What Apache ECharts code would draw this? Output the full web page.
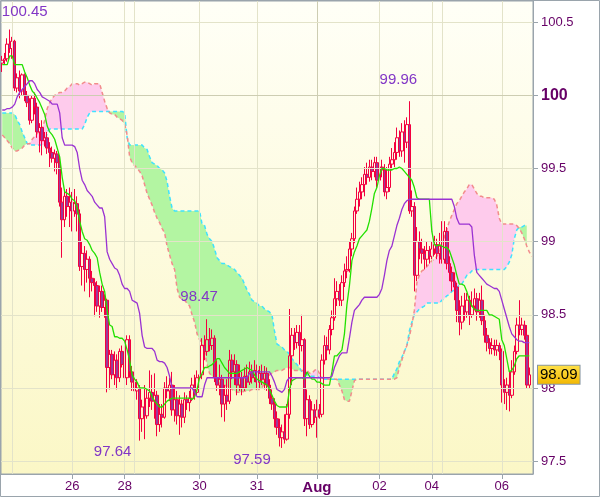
<!DOCTYPE html>
<html>
<head>
<meta charset="utf-8">
<script src="https://cdn.jsdelivr.net/npm/echarts@6/dist/echarts.min.js"></script>
<style>
html,body{margin:0;padding:0;background:#fff;}
#chart{width:600px;height:497px;}
</style>
</head>
<body>
<div id="chart"></div>
<script>
// ---------------- DATA ----------------
const N = 213; // hourly slots incl. one slot of forward cloud
const opens = [100.22,100.24,100.25,100.35,100.32,100.37,100.05,100.12,100.03,100.14,100.00,99.95,99.83,99.98,99.92,99.75,99.78,99.69,99.71,99.64,99.61,99.57,99.60,99.54,99.27,99.15,99.31,99.24,99.27,99.21,99.26,99.19,98.83,98.92,98.81,98.88,98.75,98.72,98.70,98.56,98.66,98.55,98.60,98.14,98.23,98.09,98.19,98.07,98.25,98.16,98.07,98.33,98.11,98.04,97.98,98.00,97.79,97.87,97.81,97.93,97.97,97.91,97.95,97.75,97.82,97.80,98.00,97.98,98.02,97.85,97.92,97.81,97.89,97.80,97.92,97.90,97.93,98.02,97.97,98.07,98.09,98.29,98.25,98.33,98.29,98.34,98.07,98.02,98.06,97.89,97.95,97.91,98.19,98.11,98.16,98.02,98.07,98.00,98.08,98.04,98.11,98.07,98.12,98.04,98.10,98.06,98.10,98.02,97.93,97.89,97.79,97.73,97.66,97.70,97.65,97.82,98.22,98.36,98.31,98.38,98.29,98.33,97.79,97.92,97.75,97.85,97.80,97.85,97.82,98.19,98.29,98.26,98.40,98.48,98.61,98.66,98.60,98.72,98.80,98.81,98.95,99.02,99.21,99.29,99.34,99.39,99.46,99.44,99.51,99.48,99.54,99.42,99.51,99.49,99.34,99.37,99.53,99.56,99.61,99.71,99.62,99.75,99.68,99.80,99.21,99.24,98.77,99.00,98.95,98.92,98.88,98.94,98.90,98.95,98.98,98.92,98.97,98.88,99.07,98.85,98.79,98.73,98.69,98.53,98.45,98.56,98.52,98.60,98.50,98.56,98.61,98.52,98.60,98.46,98.36,98.31,98.27,98.29,98.26,98.29,98.25,98.02,97.97,98.02,97.95,98.11,98.25,98.43,98.40,98.43,98.36,98.02];
const closes = [100.24,100.25,100.35,100.32,100.37,100.05,100.12,100.03,100.14,100.00,99.95,99.83,99.98,99.92,99.75,99.78,99.69,99.71,99.64,99.61,99.57,99.60,99.54,99.27,99.15,99.31,99.24,99.27,99.21,99.26,99.19,98.83,98.92,98.81,98.88,98.75,98.72,98.70,98.56,98.66,98.55,98.60,98.14,98.23,98.09,98.19,98.07,98.25,98.16,98.07,98.33,98.11,98.04,97.98,98.00,97.79,97.87,97.81,97.93,97.97,97.91,97.95,97.75,97.82,97.80,98.00,97.98,98.02,97.85,97.92,97.81,97.89,97.80,97.92,97.90,97.93,98.02,97.97,98.07,98.09,98.29,98.25,98.33,98.29,98.34,98.07,98.02,98.06,97.89,97.95,97.91,98.19,98.11,98.16,98.02,98.07,98.00,98.08,98.04,98.11,98.07,98.12,98.04,98.10,98.06,98.10,98.02,97.93,97.89,97.79,97.73,97.66,97.70,97.65,97.82,98.22,98.36,98.31,98.38,98.29,98.33,97.79,97.92,97.75,97.85,97.80,97.85,97.82,98.19,98.29,98.26,98.40,98.48,98.61,98.66,98.60,98.72,98.80,98.81,98.95,99.02,99.21,99.29,99.34,99.39,99.46,99.44,99.51,99.48,99.54,99.42,99.51,99.49,99.34,99.37,99.53,99.56,99.61,99.71,99.62,99.75,99.68,99.80,99.21,99.24,98.77,99.00,98.95,98.92,98.88,98.94,98.90,98.95,98.98,98.92,98.97,98.88,99.07,98.85,98.79,98.73,98.69,98.53,98.45,98.56,98.52,98.60,98.50,98.56,98.61,98.52,98.60,98.46,98.36,98.31,98.27,98.29,98.26,98.29,98.25,98.02,97.97,98.02,97.95,98.11,98.25,98.43,98.40,98.43,98.36,98.02,98.09];
const lows = [100.16,100.21,100.23,100.29,100.25,100.03,100.02,99.98,100.00,99.96,99.92,99.80,99.81,99.87,99.71,99.61,99.59,99.65,99.60,99.51,99.54,99.48,99.46,99.24,98.89,99.10,99.17,99.10,99.07,99.17,99.07,98.80,98.70,98.66,98.72,98.62,98.66,98.49,98.52,98.48,98.52,98.48,97.97,97.99,98.06,98.02,97.99,98.04,98.14,97.99,98.02,98.07,97.98,97.93,97.92,97.64,97.70,97.65,97.79,97.87,97.85,97.79,97.67,97.70,97.73,97.79,97.93,97.91,97.81,97.77,97.75,97.68,97.73,97.76,97.85,97.84,97.91,97.92,97.95,98.02,98.06,98.19,98.22,98.25,98.26,98.04,97.98,97.95,97.80,97.77,97.85,97.89,98.06,98.02,97.95,97.98,97.95,97.98,98.00,98.02,98.03,98.04,97.99,98.00,98.02,97.99,97.98,97.89,97.85,97.73,97.68,97.60,97.59,97.62,97.64,97.79,98.02,98.26,98.27,98.16,98.25,97.74,97.67,97.72,97.73,97.76,97.66,97.79,97.80,98.16,98.19,98.23,98.36,98.46,98.56,98.56,98.56,98.69,98.75,98.79,98.90,98.99,99.19,99.24,99.29,99.31,99.39,99.41,99.42,99.44,99.37,99.39,99.44,99.31,99.29,99.34,99.49,99.51,99.56,99.58,99.58,99.54,99.64,99.19,99.17,98.66,98.73,98.88,98.85,98.81,98.83,98.85,98.88,98.91,98.88,98.85,98.85,98.85,98.81,98.73,98.66,98.60,98.45,98.36,98.40,98.46,98.48,98.43,98.48,98.53,98.46,98.48,98.43,98.31,98.25,98.23,98.23,98.22,98.22,98.19,97.90,97.89,97.85,97.84,97.93,98.09,98.23,98.36,98.36,98.33,98.00,98.00];
const highs = [100.27,100.29,100.39,100.45,100.40,100.38,100.15,100.17,100.15,100.15,100.03,99.98,100.00,100.02,99.95,99.81,99.83,99.75,99.75,99.68,99.65,99.63,99.62,99.58,99.37,99.34,99.36,99.37,99.34,99.36,99.31,99.22,99.00,98.97,98.94,98.90,98.80,98.75,98.73,98.70,98.70,98.64,98.61,98.26,98.26,98.25,98.23,98.27,98.29,98.19,98.36,98.36,98.15,98.07,98.06,98.02,97.92,98.02,97.99,98.12,98.09,98.10,97.98,97.89,97.89,98.04,98.08,98.07,98.11,98.02,97.98,97.95,97.92,97.97,97.95,97.98,98.07,98.09,98.12,98.19,98.34,98.36,98.47,98.41,98.40,98.36,98.19,98.16,98.09,98.02,98.06,98.26,98.23,98.23,98.19,98.16,98.11,98.14,98.16,98.18,98.16,98.19,98.16,98.15,98.16,98.15,98.14,98.06,97.99,97.93,97.84,97.79,97.75,97.82,97.89,98.54,98.41,98.41,98.43,98.43,98.50,98.34,97.99,97.95,97.91,97.89,97.92,97.89,98.23,98.36,98.35,98.43,98.53,98.75,98.73,98.71,98.77,98.85,98.90,99.00,99.06,99.24,99.37,99.41,99.44,99.51,99.54,99.56,99.56,99.58,99.58,99.54,99.56,99.53,99.51,99.58,99.64,99.68,99.78,99.76,99.81,99.83,99.85,99.96,99.35,99.27,99.10,99.07,99.02,98.97,99.00,98.97,99.00,99.04,99.02,99.06,99.14,99.14,99.10,98.90,98.83,98.79,98.72,98.60,98.63,98.65,98.65,98.63,98.66,98.68,98.65,98.65,98.70,98.50,98.41,98.34,98.34,98.33,98.33,98.31,98.27,98.06,98.07,98.11,98.19,98.29,98.48,98.60,98.48,98.46,98.43,98.14];

// Tenkan-sen (green) and Kijun-sen (purple), one value per candle
const tenkan = [100.21,100.21,100.21,100.27,100.27,100.21,100.21,100.21,100.21,100.16,100.12,100.07,100.03,100.01,99.98,99.95,99.91,99.87,99.79,99.75,99.73,99.70,99.64,99.58,99.44,99.34,99.33,99.32,99.29,99.28,99.23,99.14,99.07,99.02,99.01,98.98,98.94,98.92,98.89,98.79,98.71,98.66,98.53,98.43,98.42,98.35,98.35,98.34,98.34,98.32,98.26,98.19,98.09,98.06,98.04,98.00,98.00,98.00,97.99,97.98,97.94,97.91,97.89,97.87,97.87,97.89,97.91,97.92,97.93,97.93,97.93,97.93,97.93,97.93,97.93,97.93,97.92,97.94,97.99,98.07,98.10,98.14,98.14,98.15,98.16,98.18,98.20,98.20,98.17,98.14,98.12,98.10,98.10,98.10,98.10,98.11,98.12,98.13,98.14,98.13,98.12,98.09,98.06,98.05,98.04,98.03,98.02,97.99,97.95,97.91,97.88,97.87,97.87,97.87,97.87,97.99,98.05,98.06,98.07,98.07,98.07,98.06,98.11,98.08,98.06,98.06,98.04,98.04,98.03,98.02,98.02,98.02,98.11,98.22,98.22,98.24,98.26,98.37,98.57,98.70,98.87,98.93,98.97,99.02,99.04,99.06,99.08,99.14,99.23,99.33,99.37,99.45,99.50,99.50,99.49,99.49,99.49,99.50,99.50,99.51,99.50,99.48,99.46,99.44,99.42,99.37,99.30,99.29,99.29,99.29,99.29,99.29,99.07,98.98,98.97,98.98,98.97,98.96,98.96,98.94,98.89,98.84,98.77,98.71,98.71,98.70,98.66,98.60,98.56,98.54,98.53,98.53,98.53,98.53,98.53,98.50,98.50,98.49,98.48,98.47,98.33,98.29,98.20,98.11,98.12,98.15,98.20,98.22,98.22,98.22,98.22,98.22];
const kijun = [99.90,99.90,99.91,99.91,99.92,99.94,99.99,100.02,100.04,100.06,100.08,100.10,100.10,100.08,100.04,100.02,99.99,99.98,99.97,99.96,99.94,99.94,99.94,99.88,99.71,99.66,99.66,99.66,99.66,99.65,99.61,99.50,99.42,99.39,99.35,99.33,99.31,99.27,99.25,99.23,99.23,99.17,98.93,98.88,98.85,98.82,98.81,98.77,98.71,98.68,98.68,98.66,98.60,98.59,98.58,98.51,98.36,98.28,98.27,98.27,98.27,98.25,98.19,98.18,98.18,98.17,98.14,98.08,98.00,98.00,98.00,98.00,98.00,98.00,98.00,98.00,98.00,97.97,97.94,97.94,97.94,98.02,98.07,98.07,98.07,98.07,98.07,98.07,98.07,98.07,98.07,98.07,98.07,98.07,98.07,98.07,98.07,98.07,98.07,98.10,98.11,98.11,98.11,98.11,98.11,98.11,98.11,98.11,98.08,98.04,97.99,97.98,97.97,97.99,98.05,98.07,98.07,98.07,98.07,98.07,98.07,98.07,98.07,98.07,98.07,98.07,98.07,98.07,98.07,98.07,98.07,98.07,98.08,98.14,98.18,98.22,98.24,98.24,98.24,98.34,98.45,98.53,98.55,98.57,98.60,98.62,98.62,98.62,98.62,98.62,98.62,98.64,98.68,98.77,98.87,98.94,98.97,99.04,99.11,99.16,99.22,99.26,99.28,99.29,99.29,99.29,99.29,99.29,99.29,99.29,99.29,99.29,99.29,99.29,99.29,99.29,99.29,99.29,99.29,99.29,99.29,99.24,99.16,99.12,99.12,99.12,99.12,99.12,99.10,98.91,98.79,98.77,98.75,98.73,98.71,98.70,98.69,98.68,98.68,98.66,98.60,98.54,98.48,98.42,98.37,98.35,98.33,98.32,98.32,98.31,98.31,98.31];

// Senkou span A (cyan dashed) and B (pink dashed), shifted cloud, one value per slot
const senkouA = [99.88,99.88,99.88,99.88,99.88,99.87,99.83,99.80,99.75,99.71,99.67,99.66,99.66,99.66,99.66,99.66,99.66,99.66,99.75,99.77,99.77,99.77,99.77,99.77,99.77,99.77,99.77,99.77,99.77,99.77,99.77,99.77,99.77,99.80,99.85,99.88,99.89,99.89,99.89,99.89,99.89,99.89,99.89,99.89,99.89,99.89,99.89,99.89,99.89,99.88,99.71,99.66,99.66,99.66,99.66,99.66,99.66,99.64,99.63,99.58,99.54,99.53,99.52,99.50,99.49,99.47,99.41,99.31,99.23,99.21,99.21,99.21,99.21,99.21,99.21,99.21,99.21,99.21,99.21,99.21,99.12,99.11,99.05,99.02,99.00,98.95,98.89,98.87,98.85,98.85,98.84,98.83,98.82,98.81,98.79,98.77,98.75,98.71,98.67,98.64,98.60,98.59,98.58,98.56,98.56,98.54,98.53,98.52,98.50,98.39,98.30,98.29,98.28,98.26,98.25,98.23,98.20,98.18,98.16,98.14,98.11,98.10,98.09,98.08,98.08,98.08,98.08,98.07,98.07,98.06,98.06,98.06,98.06,98.06,98.06,98.06,98.06,98.06,98.06,98.06,98.06,98.06,98.06,98.06,98.06,98.06,98.06,98.06,98.06,98.06,98.06,98.06,98.06,98.06,98.06,98.06,98.06,98.10,98.13,98.18,98.21,98.25,98.29,98.39,98.45,98.50,98.52,98.54,98.55,98.56,98.58,98.58,98.58,98.58,98.58,98.58,98.60,98.61,98.63,98.64,98.66,98.67,98.69,98.70,98.71,98.74,98.77,98.78,98.80,98.81,98.81,98.81,98.81,98.81,98.81,98.81,98.81,98.81,98.81,98.81,98.81,98.81,98.83,98.86,98.91,99.02,99.08,99.10,99.10,99.11,99.11];
const senkouB = [99.73,99.71,99.69,99.67,99.64,99.62,99.62,99.63,99.64,99.66,99.67,99.67,99.70,99.72,99.74,99.76,99.77,99.83,99.91,99.95,99.98,100.00,100.01,100.02,100.02,100.03,100.05,100.06,100.08,100.08,100.08,100.07,100.08,100.09,100.09,100.08,100.07,100.08,100.08,100.08,100.02,99.96,99.91,99.88,99.87,99.87,99.85,99.84,99.83,99.80,99.73,99.58,99.54,99.52,99.50,99.48,99.45,99.39,99.33,99.29,99.25,99.20,99.16,99.13,99.09,99.06,98.97,98.91,98.85,98.81,98.68,98.62,98.61,98.60,98.58,98.56,98.50,98.45,98.37,98.33,98.31,98.25,98.16,98.10,98.08,98.07,98.05,98.03,98.03,98.02,98.01,98.00,97.99,97.98,97.97,97.97,97.97,97.98,97.98,97.98,97.99,97.99,97.99,97.99,98.00,98.04,98.06,98.09,98.10,98.11,98.12,98.12,98.12,98.13,98.14,98.14,98.13,98.12,98.12,98.12,98.12,98.12,98.12,98.10,98.10,98.12,98.13,98.10,98.07,98.06,98.06,98.06,98.06,98.06,98.06,98.02,97.98,97.92,97.91,97.91,97.98,98.05,98.06,98.06,98.06,98.06,98.06,98.06,98.06,98.06,98.06,98.06,98.06,98.06,98.06,98.06,98.06,98.06,98.07,98.14,98.19,98.25,98.29,98.35,98.43,98.53,98.72,98.77,98.80,98.81,98.83,98.85,98.87,98.88,98.90,98.93,98.98,99.03,99.08,99.14,99.18,99.22,99.26,99.28,99.31,99.34,99.36,99.39,99.39,99.36,99.33,99.31,99.31,99.30,99.30,99.30,99.30,99.29,99.25,99.16,99.12,99.12,99.12,99.12,99.12,99.12,99.11,99.09,99.06,99.02,98.97,98.93,98.90];

// Axis ticks / day labels
const yTickValues = [97.5, 98, 98.5, 99, 99.5, 100, 100.5];
const dayTickIndex = [4, 28, 49, 53, 79, 102, 126, 151, 172, 176, 200];
const dayTickLabel = ['25', '26', '28', '29', '30', '31', 'Aug', '02', '04', '05', '06'];
const dayLabelShown = [false, true, true, false, true, true, true, true, true, false, true];

// High / low annotations: [candle index, price, label offset x, label offset y]
const annotIndex = [3, 163, 82, 55, 112];
const annotValue = [100.45, 99.96, 98.47, 97.64, 97.59];
const annotDx = [15, -11, -8, -27, -30];
const annotDy = [-18, -21, -22, 11, 12];

// ---------------- BUILD ----------------
const categories = Array.from({length: N}, (_, i) => 'h' + i);
const candleData = categories.map((c, i) => i < opens.length ? [opens[i], closes[i], lows[i], highs[i]] : '-');
const pad = arr => categories.map((c, i) => i < arr.length ? arr[i] : '-');
const cloudBase = senkouA.map((a, i) => Math.min(a, senkouB[i]));
const bullBand = senkouA.map((a, i) => a > senkouB[i] ? +(a - senkouB[i]).toFixed(4) : 0);
const bearBand = senkouA.map((a, i) => senkouB[i] > a ? +(senkouB[i] - a).toFixed(4) : 0);

const shownSet = new Set(dayTickIndex.filter((d, k) => dayLabelShown[k]));
const labelMap = {};
dayTickIndex.forEach((d, k) => { labelMap[d] = dayTickLabel[k]; });

const FONT = 'Liberation Sans, Arial, sans-serif';
const gridColor = '#e3e3c9';
const gridStrong = '#cdcdb2';

const chart = echarts.init(document.getElementById('chart'), null, {renderer: 'canvas'});
chart.setOption({
  animation: false,
  backgroundColor: '#ffffff',
  grid: {
    left: 1, top: 1, width: 532, height: 473,
    show: true,
    borderColor: '#9aa4ac', borderWidth: 1,
    backgroundColor: {type: 'linear', x: 0, y: 0, x2: 0, y2: 1,
      colorStops: [{offset: 0, color: '#fffff7'}, {offset: 1, color: '#fbf7c6'}]},
    containLabel: false,
    outerBoundsMode: 'none'
  },
  xAxis: {
    type: 'category',
    data: categories,
    boundaryGap: true,
    axisLine: {show: true, lineStyle: {color: '#9aa4ac'}},
    axisTick: {show: true, alignWithLabel: true, length: 5, interval: (i) => shownSet.has(i), lineStyle: {color: '#9aa4ac'}},
    axisLabel: {
      interval: (i) => shownSet.has(i),
      margin: 6,
      formatter: (v, i) => {
        const t = labelMap[i] || '';
        return t === 'Aug' ? '{b|' + t + '}' : '{n|' + t + '}';
      },
      rich: {
        n: {color: '#660066', fontSize: 13, fontFamily: FONT},
        b: {color: '#660066', fontSize: 15, fontWeight: 'bold', fontFamily: FONT}
      }
    },
    splitLine: {show: false}
  },
  yAxis: {
    type: 'value',
    position: 'right',
    min: 97.412, max: 100.645,
    scale: true,
    axisLine: {show: true, lineStyle: {color: '#9aa4ac'}},
    axisTick: {show: true, length: 5, customValues: yTickValues, lineStyle: {color: '#9aa4ac'}},
    axisLabel: {
      customValues: yTickValues,
      margin: 8,
      formatter: (v) => {
        const t = String(+v.toFixed(2));
        return v === 100 ? '{b|' + t + '}' : '{n|' + t + '}';
      },
      rich: {
        n: {color: '#660066', fontSize: 13, fontFamily: FONT},
        b: {color: '#660066', fontSize: 16, fontWeight: 'bold', fontFamily: FONT}
      }
    },
    splitLine: {show: false}
  },
  series: [
    {
      name: 'cloudBase', type: 'line', stack: 'cloud', data: cloudBase, z: 1,
      showSymbol: false, symbol: 'none', lineStyle: {opacity: 0}, silent: true,
      markLine: {
        silent: true, symbol: ['none', 'none'], label: {show: false},
        data: [].concat(
          dayTickIndex.map((d, k) => ({xAxis: categories[d], lineStyle: {color: dayTickLabel[k] === 'Aug' ? gridStrong : gridColor, width: 1, type: 'solid'}})),
          yTickValues.map(v => ({yAxis: v, lineStyle: {color: v === 100 ? gridStrong : gridColor, width: 1, type: 'solid'}}))
        )
      }
    },
    {
      name: 'cloudBull', type: 'line', stack: 'cloud', data: bullBand, z: 2,
      showSymbol: false, symbol: 'none', lineStyle: {opacity: 0}, silent: true,
      areaStyle: {color: '#b3f5a2', opacity: 1}
    },
    {
      name: 'cloudBear', type: 'line', stack: 'cloud', data: bearBand, z: 2,
      showSymbol: false, symbol: 'none', lineStyle: {opacity: 0}, silent: true,
      areaStyle: {color: '#fecbec', opacity: 1}
    },
    {
      name: 'senkouA', type: 'line', data: senkouA, z: 3, showSymbol: false, symbol: 'none', silent: true,
      lineStyle: {color: '#3fe2ff', width: 1.5, type: [4, 3]}
    },
    {
      name: 'senkouB', type: 'line', data: senkouB, z: 3, showSymbol: false, symbol: 'none', silent: true,
      lineStyle: {color: '#f28c8c', width: 1.5, type: [4, 3]}
    },
    {
      name: 'price', type: 'candlestick', data: candleData, z: 4, barWidth: 3,
      itemStyle: {color: 'rgba(255,255,255,0)', color0: '#9a3a9a', borderColor: '#f3003f', borderColor0: '#f3003f', borderWidth: 1},
      markPoint: {
        symbol: 'circle', symbolSize: 0, silent: true,
        data: annotIndex.map((d, k) => ({
          coord: [categories[d], annotValue[k]],
          value: annotValue[k],
          label: {show: true, position: 'inside', offset: [annotDx[k], annotDy[k]],
            formatter: annotValue[k].toFixed(2), color: '#8236c6', fontSize: 15, fontFamily: FONT}
        }))
      },
      markLine: {
        silent: true, symbol: ['none', 'none'],
        lineStyle: {color: 'rgba(0,0,0,0)', width: 0},
        data: [{yAxis: closes[closes.length - 1]}],
        label: {
          show: true, position: 'end', distance: 5,
          formatter: closes[closes.length - 1].toFixed(2),
          color: '#000', fontSize: 15, fontFamily: FONT,
          padding: [2, 2, 1, 2],
          borderColor: '#8796a2', borderWidth: 1,
          backgroundColor: {type: 'linear', x: 0, y: 0, x2: 0, y2: 1,
            colorStops: [{offset: 0, color: '#ffe24a'}, {offset: 1, color: '#f2b600'}]}
        }
      }
    },
    {
      name: 'tenkan', type: 'line', data: pad(tenkan), z: 5, showSymbol: false, symbol: 'none', silent: true,
      lineStyle: {color: '#22e000', width: 1.3}
    },
    {
      name: 'kijun', type: 'line', data: pad(kijun), z: 5, showSymbol: false, symbol: 'none', silent: true,
      lineStyle: {color: '#9a32d2', width: 1.3}
    }
  ],
  graphic: [{
    type: 'rect', silent: true, z: 100,
    shape: {x: 0.5, y: 0.5, width: 599, height: 496},
    style: {fill: null, stroke: '#9aa4ac', lineWidth: 1}
  }]
});
</script>
</body>
</html>
